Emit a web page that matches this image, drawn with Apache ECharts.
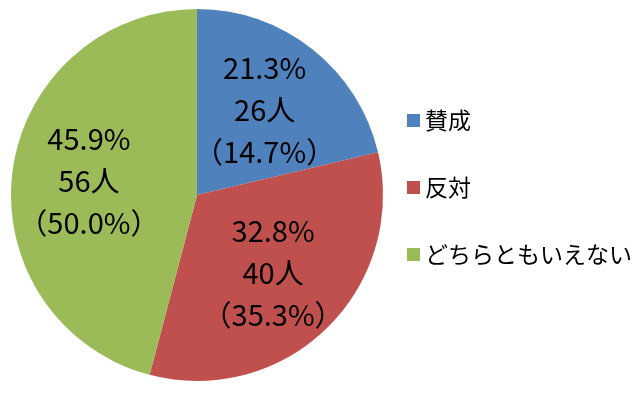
<!DOCTYPE html>
<html><head><meta charset="utf-8">
<script src="https://cdn.jsdelivr.net/npm/echarts@6/dist/echarts.min.js"></script>
<style>html,body{margin:0;padding:0;background:#fff}#c{width:640px;height:395px}</style>
</head><body><div id="c"></div>
<script>
const categories = ['賛成', '反対', 'どちらともいえない'];
const counts = [26, 40, 56];
const shares = ['21.3%', '32.8%', '45.9%'];
const previous = ['14.7%', '35.3%', '50.0%'];
const colors = ['#4F81BD', '#C0504D', '#9BBB59'];

const font = '"Noto Sans CJK JP", sans-serif';
const data = categories.map((c, i) => ({ name: c, value: counts[i], itemStyle: { color: colors[i] } }));
const chart = echarts.init(document.getElementById('c'));
chart.setOption({
  animation: false,
  legend: {
    orient: 'vertical', left: 402, top: 104,
    itemWidth: 13, itemHeight: 13, itemGap: 44,
    itemStyle: { borderWidth: 0 },
    icon: 'rect',
    textStyle: { fontFamily: font, fontSize: 23, color: '#000' },
    data: categories
  },
  series: [
    {
      type: 'pie', center: [197, 195], radius: 186, startAngle: 90,
      label: { show: false }, labelLine: { show: false },
      data: data
    },
    {
      type: 'pie', center: [197, 195], radius: [26, 186], startAngle: 90,
      silent: true, legendHoverLink: false,
      itemStyle: { color: 'rgba(0,0,0,0)' },
      label: {
        show: true, position: 'inside', color: '#000',
        fontFamily: font, fontSize: 29, lineHeight: 42,
        formatter: p => shares[p.dataIndex] + '\n' + counts[p.dataIndex] + '人\n（' + previous[p.dataIndex] + '）'
      },
      labelLine: { show: false },
      data: categories.map((c, i) => ({ name: c + ' ', value: counts[i] }))
    }
  ]
});
</script></body></html>
